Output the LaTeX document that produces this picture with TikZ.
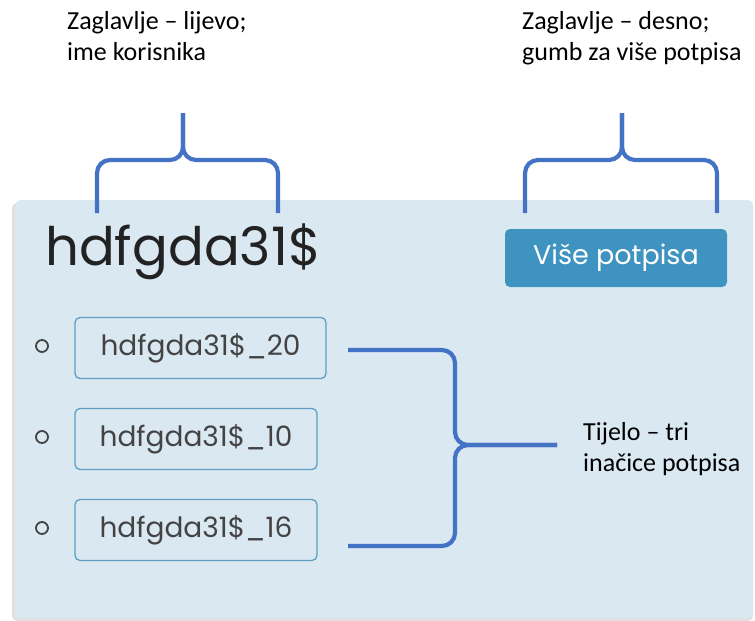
\documentclass[tikz,border=0pt]{standalone}
\usepackage{fontspec}
\setmainfont{Carlito}
\newfontfamily\uifont{Poppins}
\usetikzlibrary{positioning}

\definecolor{panelblue}{HTML}{DAE8F2}
\definecolor{btnblue}{HTML}{3E93C0}
\definecolor{boxedge}{HTML}{5F9FC3}
\definecolor{bracecol}{HTML}{4472C4}
\definecolor{inktext}{HTML}{222222}

\begin{document}
\begin{tikzpicture}[
  x=1pt, y=-1pt,
  panel/.style={fill=panelblue, rounded corners=5pt, minimum width=738pt, minimum height=418pt, anchor=north west, inner sep=0pt},
  btn/.style={fill=btnblue, rounded corners=5pt, text=white, minimum width=222pt, minimum height=58pt, font=\uifont\fontsize{27}{30}\selectfont},
  sigbox/.style={draw=boxedge, line width=1.3pt, rounded corners=5pt, minimum height=61pt, text=inktext!85, font=\uifont\fontsize{28}{30}\selectfont},
  bullet/.style={circle, draw=inktext!85, line width=1.8pt, minimum size=12pt, inner sep=0pt},
  note/.style={align=left, inner sep=0pt, text=black, font=\fontsize{26}{31}\selectfont},
  brc/.style={draw=bracecol, line width=4.2pt, rounded corners=13pt},
]
\useasboundingbox (0,0) rectangle (755,621);

% panel with a soft shadow
\fill[black!12, rounded corners=5pt] (12,203) rectangle (753,621);
\node[panel] (panel) at (15,200) {};

% header
\node[anchor=base west, inner sep=0pt, text=inktext, font=\uifont\fontsize{53}{56}\selectfont] (user) at (45,265) {hdfgda31\$};
\node[btn] (more) at (616,258) {Više potpisa};

% body: three signature variants
\node[sigbox, minimum width=251pt] (sig1) at (200.5,348) {hdfgda31\$\_20};
\node[sigbox, minimum width=242pt] (sig2) at (196,439) {hdfgda31\$\_10};
\node[sigbox, minimum width=242pt] (sig3) at (196,530) {hdfgda31\$\_16};
\node[bullet] (b1) at (42,346) {};
\node[bullet] (b2) at (42,437) {};
\node[bullet] (b3) at (42,528) {};

% annotations
\node[note, anchor=north west] (lblLeft) at (67,11) {Zaglavlje -- lijevo;\\ime korisnika};
\node[note, anchor=north west] (lblRight) at (522,11) {Zaglavlje -- desno;\\gumb za više potpisa};
\node[note, anchor=west] (lblBody) at (583,449) {Tijelo -- tri\\inačice potpisa};

% braces
\coordinate (tipL) at (183,113);
\coordinate (tipR) at (622,113);
\coordinate (tipB) at (557,445);
\draw[brc] (97,213) |- (183,160) -- (tipL);
\draw[brc] (278,213) |- (183,160) -- (tipL);
\draw[brc] (525,213) |- (622,160) -- (tipR);
\draw[brc] (717,213) |- (622,160) -- (tipR);
\draw[brc] (348,350) -| (455,445) -- (tipB);
\draw[brc] (348,546) -| (455,445) -- (tipB);

\end{tikzpicture}
\end{document}
